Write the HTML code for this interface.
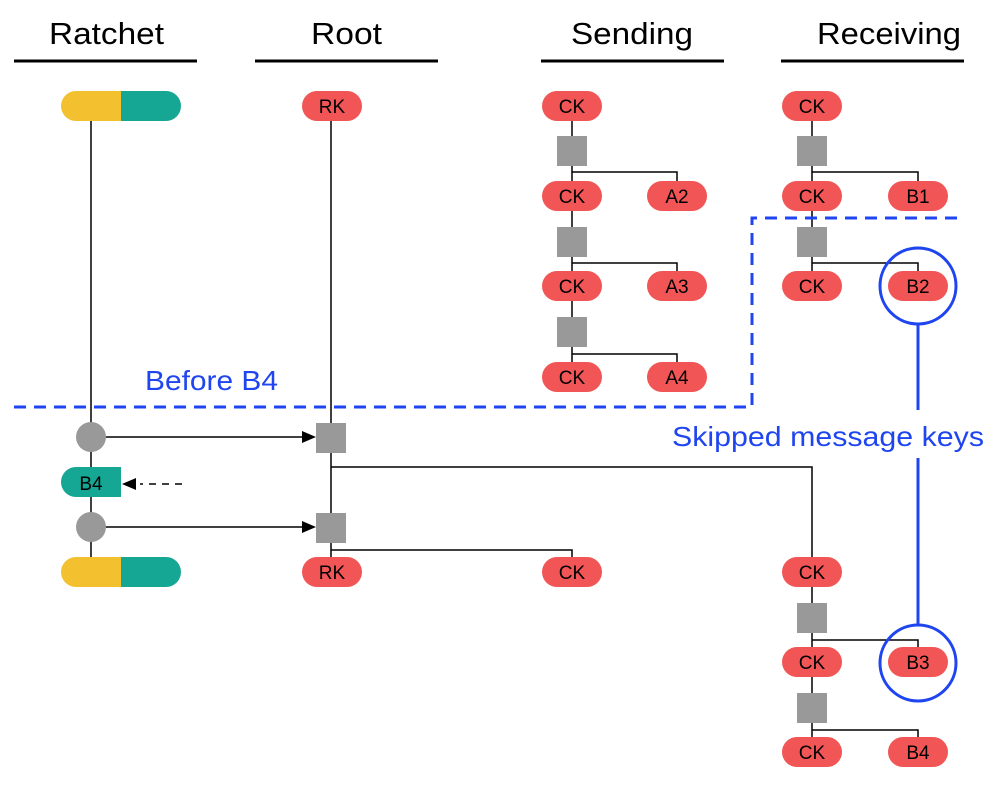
<!DOCTYPE html><html><head><style>body{margin:0;background:#fff}svg{display:block}</style></head><body>
<svg width="994" height="800" xmlns="http://www.w3.org/2000/svg" font-family="Liberation Sans, Arial, sans-serif">
<g font-size="31" fill="#000">
<text x="49" y="44" textLength="115" lengthAdjust="spacingAndGlyphs">Ratchet</text><text x="311" y="44" textLength="71" lengthAdjust="spacingAndGlyphs">Root</text><text x="571" y="44" textLength="122" lengthAdjust="spacingAndGlyphs">Sending</text><text x="817" y="44" textLength="144" lengthAdjust="spacingAndGlyphs">Receiving</text></g>
<g stroke="#000" stroke-width="3"><line x1="14" y1="61" x2="197" y2="61"/><line x1="255" y1="61" x2="438" y2="61"/><line x1="541" y1="61" x2="724" y2="61"/><line x1="781" y1="61" x2="964" y2="61"/></g>
<g stroke="#000" stroke-width="1.5" fill="none">
<line x1="91" y1="106" x2="91" y2="572"/>
<line x1="331" y1="106" x2="331" y2="572"/>
<line x1="572" y1="106" x2="572" y2="377"/>
<line x1="812" y1="106" x2="812" y2="286"/>
<path d="M572 172H677V196M572 263H677V286M572 354H677V377"/>
<path d="M812 172H918V196M812 263H918V286"/>
<path d="M331 467H812V752M331 550H572V572"/>
<path d="M812 640H918V663M812 730H918V752"/>
<line x1="105" y1="437" x2="305" y2="437"/><line x1="105" y1="527" x2="305" y2="527"/>
<line x1="182" y1="484" x2="140" y2="484" stroke-dasharray="7,6"/>
</g>
<g fill="#000"><path d="M316 437l-14-6v12z"/><path d="M316 527l-14-6v12z"/><path d="M122 484l14-6v12z"/></g>
<g fill="#999">
<rect x="557" y="136" width="30" height="30"/><rect x="557" y="227" width="30" height="30"/><rect x="557" y="317" width="30" height="30"/>
<rect x="797" y="136" width="30" height="30"/><rect x="797" y="227" width="30" height="30"/>
<rect x="316" y="423" width="30" height="30"/><rect x="316" y="513" width="30" height="30"/>
<rect x="797" y="603" width="30" height="30"/><rect x="797" y="693" width="30" height="30"/>
<circle cx="91" cy="437" r="15"/><circle cx="91" cy="527" r="15"/></g>
<g>
<path d="M76 91H121V121H76A15 15 0 0 1 76 91Z" fill="#f3c12f"/><path d="M121 91H166A15 15 0 0 1 166 121H121Z" fill="#16a694"/>
<path d="M76 557H121V587H76A15 15 0 0 1 76 557Z" fill="#f3c12f"/><path d="M121 557H166A15 15 0 0 1 166 587H121Z" fill="#16a694"/>
<path d="M76 467H121V497H76A15 15 0 0 1 76 467Z" fill="#16a694"/>
</g>
<g fill="#f25555">
<rect x="302" y="91" width="60" height="30" rx="15"/><rect x="302" y="557" width="60" height="30" rx="15"/>
<rect x="542" y="91" width="60" height="30" rx="15"/><rect x="542" y="181" width="60" height="30" rx="15"/><rect x="542" y="271" width="60" height="30" rx="15"/><rect x="542" y="362" width="60" height="30" rx="15"/><rect x="542" y="557" width="60" height="30" rx="15"/>
<rect x="647" y="181" width="60" height="30" rx="15"/><rect x="647" y="271" width="60" height="30" rx="15"/><rect x="647" y="362" width="60" height="30" rx="15"/>
<rect x="782" y="91" width="60" height="30" rx="15"/><rect x="782" y="181" width="60" height="30" rx="15"/><rect x="782" y="271" width="60" height="30" rx="15"/>
<rect x="782" y="557" width="60" height="30" rx="15"/><rect x="782" y="647" width="60" height="30" rx="15"/><rect x="782" y="737" width="60" height="30" rx="15"/>
<rect x="888" y="181" width="60" height="30" rx="15"/><rect x="888" y="271" width="60" height="30" rx="15"/><rect x="888" y="647" width="60" height="30" rx="15"/><rect x="888" y="737" width="60" height="30" rx="15"/>
</g>
<g font-size="19" text-anchor="middle" fill="#000">
<text x="332" y="113">RK</text><text x="332" y="579">RK</text>
<text x="572" y="113">CK</text><text x="572" y="203">CK</text><text x="572" y="293">CK</text><text x="572" y="384">CK</text><text x="572" y="579">CK</text>
<text x="677" y="203">A2</text><text x="677" y="293">A3</text><text x="677" y="384">A4</text>
<text x="812" y="113">CK</text><text x="812" y="203">CK</text><text x="812" y="293">CK</text><text x="812" y="579">CK</text><text x="812" y="669">CK</text><text x="812" y="759">CK</text>
<text x="918" y="203">B1</text><text x="918" y="293">B2</text><text x="918" y="669">B3</text><text x="918" y="759">B4</text>
<text x="91" y="490">B4</text></g>
<g stroke="#1f45f0" stroke-width="3" fill="none">
<path d="M14 407H752V218H965" stroke-dasharray="12,8"/>
<circle cx="918" cy="286" r="38"/><circle cx="918" cy="663" r="38"/>
<line x1="918" y1="324" x2="918" y2="410"/><line x1="918" y1="458" x2="918" y2="625"/></g>
<g font-size="28" fill="#1f45f0"><text x="145" y="390" textLength="133" lengthAdjust="spacingAndGlyphs">Before B4</text><text x="672" y="446" textLength="312" lengthAdjust="spacingAndGlyphs">Skipped message keys</text></g>
</svg></body></html>
